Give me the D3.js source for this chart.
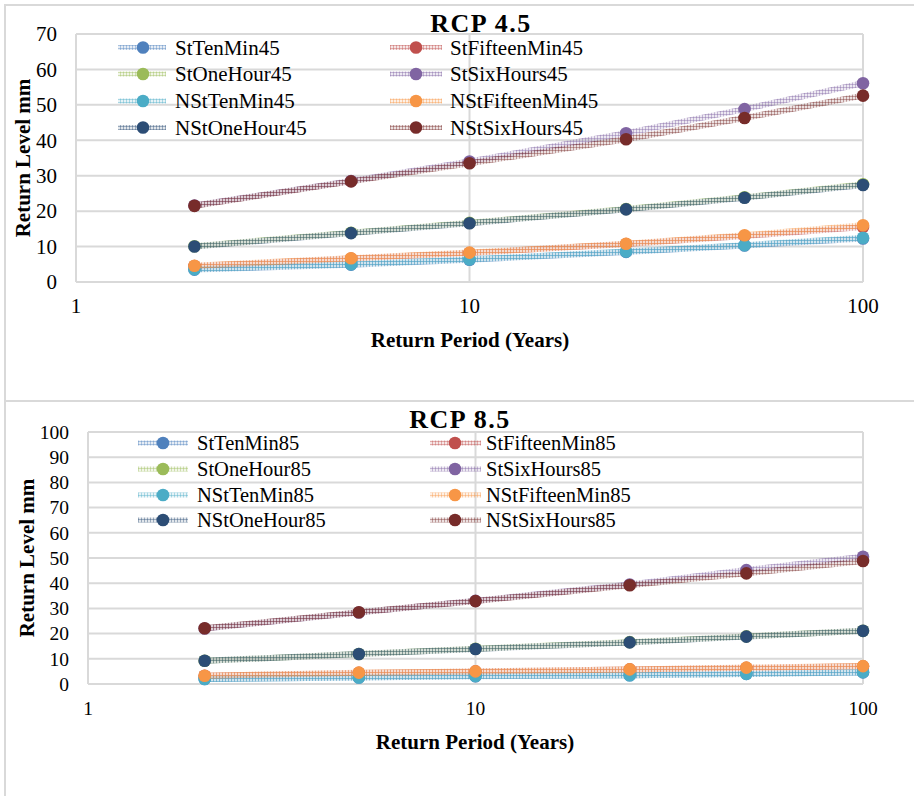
<!doctype html>
<html>
<head>
<meta charset="utf-8">
<title>RCP 4.5 / RCP 8.5 Return Levels</title>
<script src="https://cdn.jsdelivr.net/npm/d3@7"></script>
<style>
  body { margin: 0; background: #fff; }
  text { font-family: "Liberation Serif", "Times New Roman", serif; fill: #000; }
</style>
</head>
<body>
<div id="chart-area"></div>
<script>
// Data
var periods = [2, 5, 10, 25, 50, 100];

var names45 = ["StTenMin45", "StFifteenMin45", "StOneHour45", "StSixHours45",
               "NStTenMin45", "NStFifteenMin45", "NStOneHour45", "NStSixHours45"];
var stTenMin45      = [3.5, 4.9, 6.3, 8.5, 10.3, 12.3];
var stFifteenMin45  = [4.5, 6.6, 8.2, 10.7, 13.0, 15.5];
var stOneHour45     = [10.1, 13.9, 16.7, 20.6, 23.9, 27.6];
var stSixHours45    = [21.6, 28.5, 34.0, 42.0, 48.8, 56.1];
var nstTenMin45     = [3.6, 5.0, 6.4, 8.6, 10.4, 12.5];
var nstFifteenMin45 = [4.6, 6.7, 8.3, 10.8, 13.2, 16.0];
var nstOneHour45    = [10.0, 13.8, 16.6, 20.5, 23.8, 27.4];
var nstSixHours45   = [21.5, 28.4, 33.5, 40.3, 46.3, 52.6];

var names85 = ["StTenMin85", "StFifteenMin85", "StOneHour85", "StSixHours85",
               "NStTenMin85", "NStFifteenMin85", "NStOneHour85", "NStSixHours85"];
var stTenMin85      = [2.0, 2.6, 3.1, 3.5, 4.0, 4.6];
var stFifteenMin85  = [3.3, 4.4, 5.0, 5.8, 6.4, 7.0];
var stOneHour85     = [9.2, 11.9, 14.0, 16.6, 18.9, 21.1];
var stSixHours85    = [22.0, 28.4, 33.0, 39.5, 45.2, 50.5];
var nstTenMin85     = [2.0, 2.6, 3.2, 3.5, 4.0, 4.7];
var nstFifteenMin85 = [3.3, 4.5, 5.0, 5.8, 6.5, 7.1];
var nstOneHour85    = [9.2, 11.9, 13.9, 16.5, 18.8, 21.1];
var nstSixHours85   = [22.1, 28.5, 32.9, 39.2, 43.9, 48.8];

var xTicks = [1, 10, 100];
var seriesColors = ["#4f81bd", "#c0504d", "#9bbb59", "#8064a2",
                    "#4bacc6", "#f79646", "#2c4d75", "#772c2a"];

var W = 914, H = 796;
var svg = d3.select("#chart-area").append("svg").attr("width", W).attr("height", H);
var defs = svg.append("defs");

// crosshatch stroke patterns, one per colour (pale, like the Excel pattern lines)
seriesColors.forEach(function(c, i){
    var p = defs.append("pattern").attr("id", "hatch" + i)
        .attr("patternUnits", "userSpaceOnUse").attr("width", 3).attr("height", 3);
    p.append("rect").attr("width", 3).attr("height", 3).attr("fill", c).attr("fill-opacity", 0.14);
    p.append("path").attr("d", "M0,0.5H3M0.5,0V3")
        .attr("stroke", c).attr("stroke-opacity", 0.4).attr("stroke-width", 1);
});

// outer frames
var frame = "#d9d9d9";
svg.append("line").attr("x1", 5).attr("x2", W).attr("y1", 5).attr("y2", 5).attr("stroke", frame).attr("stroke-width", 2);
svg.append("line").attr("x1", 5).attr("x2", 5).attr("y1", 4).attr("y2", H).attr("stroke", frame).attr("stroke-width", 2);
svg.append("line").attr("x1", 5).attr("x2", W).attr("y1", 401).attr("y2", 401).attr("stroke", frame).attr("stroke-width", 2);

function drawPanel(o) {
    var g = svg.append("g");
    var x = d3.scaleLog().domain([1, 100]).range([o.left, o.right]);
    var y = d3.scaleLinear().domain([0, o.yMax]).range([o.bottom, o.top]);

    // grid
    var yTicks = d3.range(0, o.yMax + 1, 10);
    g.selectAll(".hg").data(yTicks).enter().append("line")
        .attr("x1", o.left).attr("x2", o.right)
        .attr("y1", function(d){ return y(d); }).attr("y2", function(d){ return y(d); })
        .attr("stroke", frame).attr("stroke-width", 2);
    g.selectAll(".vg").data(xTicks).enter().append("line")
        .attr("x1", function(d){ return x(d); }).attr("x2", function(d){ return x(d); })
        .attr("y1", o.top).attr("y2", o.bottom)
        .attr("stroke", frame).attr("stroke-width", 2);

    // tick labels
    g.selectAll(".yl").data(yTicks).enter().append("text")
        .attr("x", o.left - 19).attr("y", function(d){ return y(d); }).attr("dy", "0.35em")
        .attr("text-anchor", "end").attr("font-size", o.tickSize).text(function(d){ return d; });
    g.selectAll(".xl").data(xTicks).enter().append("text")
        .attr("x", function(d){ return x(d); }).attr("y", o.bottom + 31)
        .attr("text-anchor", "middle").attr("font-size", o.tickSize).text(function(d){ return d; });

    // titles
    g.append("text").attr("x", o.titleX).attr("y", o.titleY).attr("text-anchor", "middle")
        .attr("font-size", 26).attr("font-weight", "bold").attr("letter-spacing", "1.5px").text(o.title);
    g.append("text").attr("x", o.xTitleX).attr("y", o.xTitleY).attr("text-anchor", "middle")
        .attr("font-size", 21).attr("font-weight", "bold").text("Return Period (Years)");
    g.append("text").attr("transform", "translate(" + o.yTitleX + "," + ((o.top + o.bottom) / 2) + ") rotate(-90)")
        .attr("text-anchor", "middle").attr("font-size", 21).attr("font-weight", "bold").text("Return Level mm");

    // series
    var line = d3.line().x(function(d){ return x(d[0]); }).y(function(d){ return y(d[1]); });
    o.series.forEach(function(vals, i){
        var pts = periods.map(function(p, j){ return [p, vals[j]]; });
        var sg = g.append("g");
        sg.append("path").datum(pts).attr("d", line).attr("fill", "none")
            .attr("stroke", "url(#hatch" + i + ")").attr("stroke-width", 6);
        sg.selectAll("circle").data(pts).enter().append("circle")
            .attr("cx", function(d){ return x(d[0]); }).attr("cy", function(d){ return y(d[1]); })
            .attr("r", 6.3).attr("fill", seriesColors[i]);
    });

    // legend
    o.names.forEach(function(name, i){
        var col = i % 2, row = Math.floor(i / 2);
        var lc = o.legendCols[col];
        var ly = o.legendY[row];
        var lg = g.append("g");
        lg.append("line").attr("x1", lc.x1).attr("x2", lc.x2).attr("y1", ly).attr("y2", ly)
            .attr("stroke", "url(#hatch" + i + ")").attr("stroke-width", 5);
        lg.append("circle").attr("cx", lc.m).attr("cy", ly).attr("r", 6.3).attr("fill", seriesColors[i]);
        lg.append("text").attr("x", lc.t).attr("y", ly).attr("dy", "0.35em")
            .attr("font-size", o.legendSize).text(name);
    });
}

drawPanel({
    left: 76, right: 863, top: 34, bottom: 282, yMax: 70,
    tickSize: 21, legendSize: 21,
    title: "RCP 4.5", titleX: 481, titleY: 32,
    xTitleX: 470, xTitleY: 347, yTitleX: 30,
    names: names45,
    series: [stTenMin45, stFifteenMin45, stOneHour45, stSixHours45,
             nstTenMin45, nstFifteenMin45, nstOneHour45, nstSixHours45],
    legendCols: [{x1: 118, x2: 166, m: 143, t: 175}, {x1: 390, x2: 442, m: 416, t: 450}],
    legendY: [47.5, 74, 101, 127.5]
});

drawPanel({
    left: 88, right: 863, top: 432, bottom: 684, yMax: 100,
    tickSize: 19.5, legendSize: 20.5,
    title: "RCP 8.5", titleX: 460, titleY: 428,
    xTitleX: 475, xTitleY: 749, yTitleX: 34,
    names: names85,
    series: [stTenMin85, stFifteenMin85, stOneHour85, stSixHours85,
             nstTenMin85, nstFifteenMin85, nstOneHour85, nstSixHours85],
    legendCols: [{x1: 138, x2: 188, m: 163, t: 197}, {x1: 430, x2: 481, m: 455, t: 486}],
    legendY: [443, 469, 495, 520]
});
</script>
</body>
</html>
